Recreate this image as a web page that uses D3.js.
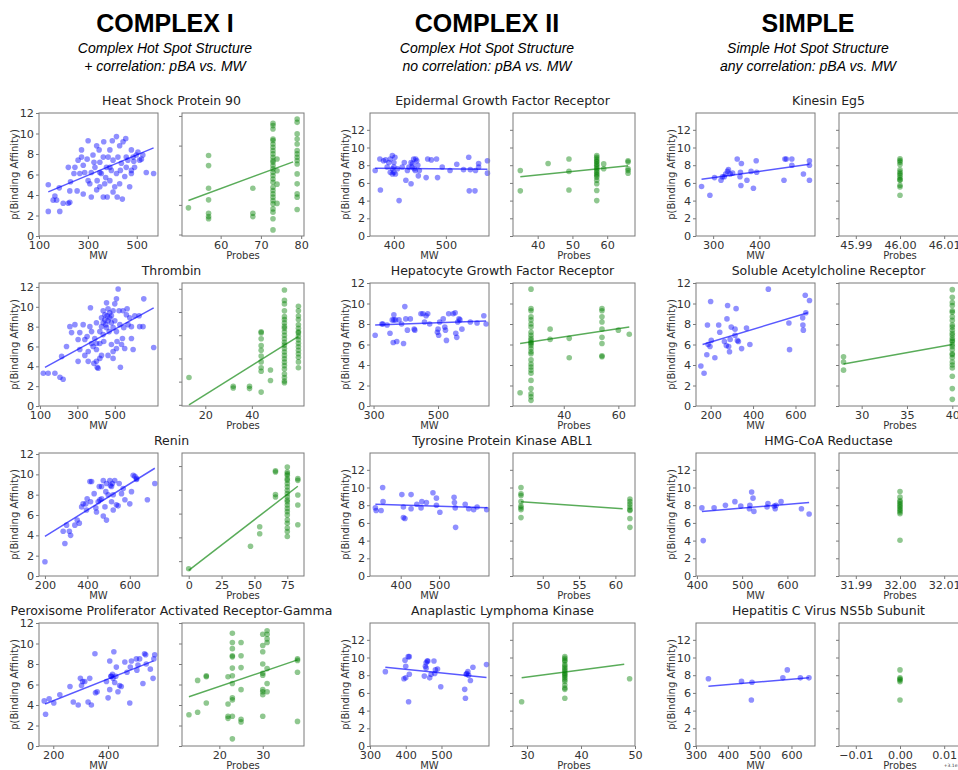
<!DOCTYPE html>
<html>
<head>
<meta charset="utf-8">
<script src="https://cdn.jsdelivr.net/npm/d3@7"></script>
<style>
  body { margin: 0; background: #fff; }
  svg text { font-family: "DejaVu Sans", sans-serif; }
</style>
</head>
<body>
<svg id="chart"></svg>
<script>
// ---- headers ----
const groupTitles = ["COMPLEX I", "COMPLEX II", "SIMPLE"];
const groupSub1 = ["Complex Hot Spot Structure", "Complex Hot Spot Structure", "Simple Hot Spot Structure"];
const groupSub2 = ["+ correlation: pBA vs. MW", "no correlation: pBA vs. MW", "any correlation: pBA vs. MW"];

// ---- panel titles (column by column) ----
const titles = [
  "Heat Shock Protein 90", "Thrombin", "Renin", "Peroxisome Proliferator Activated Receptor-Gamma",
  "Epidermal Growth Factor Receptor", "Hepatocyte Growth Factor Receptor", "Tyrosine Protein Kinase ABL1", "Anaplastic Lymphoma Kinase",
  "Kinesin Eg5", "Soluble Acetylcholine Receptor", "HMG-CoA Reductase", "Hepatitis C Virus NS5b Subunit"
];

// ---- axis ranges and ticks ----
const mwDomains = [[100,587],[95,731],[172,733],[148,582],[354,583],[289,658],[320,630],[300,633],[263,520],[131,692],[398,661],[300,674]];
const mwTicks = [[100,300,500],[100,300,500],[200,400,600],[200,400],[400,500],[300,500],[400,500],[300,400,500],[300,400],[200,400,600],[400,500,600],[300,400,500,600]];
const yTops = [12,12.4,12.1,12,13.9,12,13.9,13.9,13.9,12,13.9,13.9];
const probeDomains = [[50.4,80.7],[10,62.4],[-5.1,87.7],[11.4,39.5],[32.9,68],[21.4,66.1],[45.9,62.7],[27.4,50],[45.9862,46.0138],[27.5,40.96],[31.9862,32.0138],[-0.0138,0.0138]];
const probeTicks = [[60,70,80],[20,40],[0,25,50,75],[20,30],[40,50,60],[40,60],[50,55,60],[30,40,50],[45.99,46.00,46.01],[30,35,40],[31.99,32.00,32.01],[-0.01,0.00,0.01]];
const probeY = [[1.9,10.2],[1.9,12.5],[0.75,11.1],[0,12],[0,13.9],[0,12],[0,13.9],[0,13.9],[0,13.9],[0,12],[0,13.9],[0,13.9]];
const probeOffsets = ["", "", "", "", "", "", "", "", "", "", "", "+3.1e1"];

// ---- MW vs pBA points [MW, pBA] and fitted line ends ----
const hsp90MW = [[138,2.4],[138,5.0],[165,3.9],[172,3.5],[183,4.7],[185,2.4],[158,3.5],[199,3.2],[220,3.2],[226,3.3],[226,4.4],[220,6.7],[229,5.3],[243,6.1],[247,6.7],[260,7.4],[267,6.1],[274,7.7],[281,6.9],[287,6.2],[297,7.5],[301,9.3],[308,5.1],[314,3.8],[314,6.2],[321,7.9],[329,6.7],[336,8.8],[338,5.4],[346,8.4],[349,7.2],[349,4.8],[355,6.1],[363,7.7],[365,9.2],[369,5.1],[376,6.7],[379,3.8],[383,7.7],[390,8.4],[390,5.4],[396,6.4],[400,9.3],[403,7.4],[410,4.8],[417,9.7],[420,3.8],[423,7.7],[430,8.8],[433,6.4],[437,7.1],[444,9.2],[451,5.8],[455,9.5],[457,7.7],[464,7.4],[471,4.8],[478,6.4],[485,7.7],[491,6.7],[498,7.9],[505,8.2],[512,7.4],[519,7.5],[525,7.9],[539,6.2],[569,6.1],[281,4.1],[256,4.4],[301,5.4],[403,4.3],[441,3.6],[478,6.1],[478,8.4],[349,6.2],[325,7.2],[373,5.7],[417,6.1],[336,4.5],[274,8.4],[390,6.7],[430,5.1],[457,6.7],[488,7.3],[363,3.8]];
const hsp90MWFit = [[138,4.3],[569,8.6]];
const thrombinMW = [[118,3.3],[144,3.3],[180,3.3],[207,2.9],[224,2.7],[216,5.0],[242,6.0],[260,8.0],[269,7.4],[287,8.2],[304,4.5],[331,8.2],[304,6.7],[313,5.7],[340,6.7],[352,7.0],[358,5.5],[370,9.9],[367,8.0],[376,7.5],[384,6.0],[393,6.8],[402,5.7],[402,8.4],[402,4.5],[406,3.9],[411,3.8],[420,7.5],[420,6.3],[429,8.9],[429,8.0],[438,9.6],[438,8.4],[438,7.2],[441,6.5],[447,9.2],[447,8.7],[452,8.2],[456,7.9],[456,10.4],[459,9.1],[464,9.8],[464,8.6],[470,7.5],[473,9.4],[473,8.9],[482,9.1],[482,8.4],[482,6.2],[491,9.6],[491,7.9],[491,4.8],[500,8.6],[500,10.3],[509,10.8],[509,7.5],[512,6.5],[518,11.8],[523,9.6],[527,8.2],[530,3.9],[536,6.2],[541,6.8],[548,7.9],[553,5.8],[562,9.2],[571,8.2],[580,8.9],[589,8.0],[598,5.7],[607,9.1],[633,8.0],[651,8.0],[655,10.8],[630,9.1],[566,9.8],[589,6.8],[544,9.6],[509,5.8],[420,4.8],[464,5.1],[491,5.5],[358,4.5],[388,4.3],[376,6.3],[402,6.3],[340,5.1],[313,7.4],[429,5.1],[708,5.9]];
const thrombinMWFit = [[127,3.9],[708,9.9]];
const reninMW = [[200,1.4],[286,4.4],[294,3.2],[302,5.0],[315,4.4],[321,4.0],[341,5.0],[352,5.5],[362,5.2],[373,6.8],[380,7.1],[393,7.1],[396,6.5],[399,7.6],[412,9.3],[420,9.3],[415,7.3],[432,8.1],[440,6.7],[443,6.3],[451,7.3],[456,8.8],[467,7.6],[467,8.8],[475,9.4],[475,5.9],[483,6.8],[487,8.3],[490,9.1],[498,8.0],[506,9.4],[509,8.9],[514,7.3],[514,8.8],[518,9.1],[522,6.5],[522,8.0],[529,9.4],[537,7.0],[545,6.9],[550,9.1],[561,8.1],[569,8.6],[577,7.5],[600,7.1],[608,8.3],[616,9.9],[624,9.8],[632,9.5],[632,9.6],[683,7.5],[718,9.1],[490,5.5],[459,7.5]];
const reninMWFit = [[200,3.9],[718,10.6]];
const ppargMW = [[167,4.4],[172,3.1],[185,4.6],[202,4.2],[224,5.0],[261,5.8],[273,4.3],[291,4.0],[299,6.6],[307,6.3],[303,5.9],[315,6.3],[327,4.3],[333,6.6],[339,4.0],[352,9.0],[354,5.2],[360,5.3],[394,6.3],[400,4.7],[406,8.3],[406,5.5],[410,6.8],[412,6.8],[416,7.0],[418,6.6],[421,9.2],[424,6.2],[428,6.8],[430,7.7],[436,5.3],[442,5.9],[448,5.8],[461,8.2],[469,7.2],[479,4.2],[481,7.7],[485,8.3],[503,8.5],[505,7.4],[509,7.9],[515,8.5],[527,6.1],[533,9.0],[537,8.9],[539,8.0],[554,7.5],[564,6.6],[567,8.5],[570,8.9]];
const ppargMWFit = [[170,4.1],[566,8.3]];
const egfrMW = [[364,7.4],[373,8.7],[374,5.2],[380,8.5],[384,8.6],[387,7.8],[390,8.3],[393,8.7],[393,7.2],[397,9.1],[397,7.0],[397,7.6],[400,8.3],[400,7.8],[400,7.2],[402,8.9],[403,7.0],[407,7.6],[410,4.0],[416,7.8],[420,8.3],[423,6.3],[426,7.4],[429,7.8],[433,5.9],[433,8.3],[435,7.8],[436,8.2],[438,8.7],[439,7.6],[441,7.4],[442,8.7],[444,8.5],[446,8.0],[447,6.8],[449,7.4],[462,6.6],[465,8.7],[472,8.6],[482,8.7],[484,6.6],[493,7.8],[508,7.4],[521,8.1],[534,7.5],[544,8.9],[545,5.1],[547,7.5],[556,5.1],[557,7.4],[563,7.8],[563,8.2],[580,8.5],[580,7.1]];
const egfrMWFit = [[364,7.65],[580,7.55]];
const hgfrMW = [[305,6.9],[326,8.0],[329,8.0],[342,7.9],[351,7.1],[358,8.4],[363,8.9],[363,8.4],[368,8.4],[361,6.2],[372,6.3],[379,8.4],[387,8.0],[393,6.1],[397,9.7],[400,8.5],[405,7.4],[414,8.5],[426,7.5],[428,7.4],[447,9.0],[453,9.0],[458,8.2],[463,8.8],[468,9.0],[474,8.0],[498,7.2],[500,7.5],[502,6.9],[505,8.2],[516,8.5],[521,7.7],[523,7.4],[526,6.4],[533,9.0],[547,9.0],[553,9.1],[555,7.1],[558,6.7],[561,8.2],[565,8.5],[568,8.4],[574,7.5],[600,8.2],[621,8.1],[642,8.8],[649,8.0]];
const hgfrMWFit = [[305,7.9],[649,8.3]];
const abl1MW = [[334,7.7],[336,7.4],[349,7.4],[353,10.0],[354,8.4],[403,9.2],[407,7.8],[407,6.6],[411,6.5],[427,9.2],[427,7.6],[442,8.1],[453,7.7],[455,8.4],[467,8.3],[484,9.4],[493,8.8],[493,8.0],[502,7.2],[539,8.9],[540,8.3],[542,7.7],[543,5.5],[568,8.1],[577,7.6],[590,7.5],[599,7.8],[624,7.5]];
const abl1MWFit = [[334,8.1],[626,7.7]];
const alkMW = [[343,8.4],[395,7.6],[398,9.7],[400,7.7],[400,9.0],[407,10.1],[410,10.1],[410,8.1],[408,5.0],[452,7.9],[455,9.0],[457,9.4],[457,8.8],[460,9.6],[462,9.6],[467,7.7],[471,8.1],[479,9.6],[483,8.6],[489,8.7],[481,8.2],[498,6.7],[565,6.4],[567,5.4],[569,8.1],[571,8.2],[574,8.4],[576,8.0],[581,7.4],[588,8.9],[626,9.2]];
const alkMWFit = [[343,8.9],[626,7.75]];
const kinesinMW = [[275,5.6],[293,4.6],[303,6.6],[317,6.3],[320,6.7],[324,6.7],[327,7.0],[331,7.3],[333,7.5],[337,7.0],[342,7.1],[352,8.7],[358,6.7],[359,7.2],[361,8.2],[360,5.7],[373,6.3],[382,7.3],[387,5.4],[393,8.5],[394,7.2],[453,6.3],[455,8.7],[458,8.7],[470,8.7],[470,8.0],[495,7.0],[508,8.5],[508,8.0],[508,6.3]];
const kinesinMWFit = [[275,6.4],[508,8.1]];
const achrMW = [[154,3.9],[169,3.2],[182,5.0],[185,7.9],[188,6.0],[197,5.8],[200,10.2],[203,6.4],[220,4.7],[238,7.9],[243,7.2],[265,6.3],[274,5.9],[277,8.5],[280,9.8],[285,5.8],[289,5.3],[292,6.5],[297,7.7],[315,7.5],[315,6.9],[320,9.5],[326,6.4],[331,6.3],[346,5.6],[369,7.6],[385,6.0],[472,11.4],[569,8.1],[572,5.5],[634,8.6],[635,7.9],[637,7.4],[646,10.8],[649,9.1],[666,10.3]];
const achrMWFit = [[162,6.0],[658,9.1]];
const hmgMW = [[411,7.7],[414,4.0],[438,7.7],[463,8.0],[484,8.4],[497,7.9],[516,7.6],[517,8.0],[521,9.5],[524,8.8],[526,7.3],[555,7.8],[557,8.2],[571,7.9],[573,7.6],[575,8.0],[586,8.4],[631,7.6],[648,7.0]];
const hmgMWFit = [[411,7.3],[648,8.3]];
const hcvMW = [[339,7.6],[443,7.3],[476,7.2],[474,5.2],[573,7.7],[587,8.6],[628,7.7],[655,7.7]];
const hcvMWFit = [[339,6.75],[655,7.7]];

// ---- Probes vs pBA: [probes, [pBA values]] and fitted line ends ----
const hsp90Probes = [[52,[3.8]],[57,[7.33,6.65,5.12,4.34,3.44,3.21,3.06]],[68,[5.12,3.44,3.21]],[73,[9.5,9.35,9.12,8.45,8.34,8.11,7.89,7.66,7.44,7.21,6.99,6.87,6.65,6.43,6.2,5.98,5.75,5.53,5.19,4.97,4.74,4.52,4.29,4.07,3.73,3.51,3.06,2.31]],[74,[7.1,6.3,5.4,4.1]],[79,[9.8,9.57,8.79,8.45,8.11,7.66,7.44,7.21,6.99,6.76,6.09,5.42,4.74,4.52,3.69]]];
const hsp90ProbesFit = [[52,4.3],[78,6.9]];
const thrombinProbes = [[13,[4.35]],[32,[3.6,3.45]],[39,[3.6,3.4]],[44,[8.3,8.2,7.7,7.1,6.7,6.2,5.7,5.2,4.9,3.1]],[48,[5.0,4.1]],[54,[11.9,11.0,10.7,10.1,9.6,9.35,9.06,8.76,8.6,8.3,8.0,7.7,7.4,7.15,6.85,6.56,6.26,5.97,5.68,5.38,5.09,4.65,4.35,4.06,3.9]],[60,[10.5,10.1,9.65,9.35,8.9,8.6,8.3,8.2,7.9,7.6,7.3,7.0,6.7,6.4,6.1,5.7,5.2]]];
const thrombinProbesFit = [[13,2.0],[60,7.9]];
const reninProbes = [[0,[1.36]],[47,[3.25]],[54,[4.9,4.3]],[66,[9.6,9.5,7.6,7.4]],[75,[9.92,9.5,9.36,9.22,8.94,8.8,8.53,8.25,7.97,7.69,7.42,7.14,7.0,6.72,6.44,6.17,5.89,5.47,5.19,4.78,4.5,4.08]],[83,[8.94,8.8,7.56,6.72,5.06]]];
const reninProbesFit = [[0,1.22],[83,8.3]];
const ppargProbes = [[13,[3.05]],[15,[3.3,6.4]],[17,[6.85,6.75,4.2]],[22,[4.1,6.75,2.9,2.7]],[23,[11.0,10.1,9.5,8.8,8.7,7.6,6.85,6.1,4.7,4.5,0.7,2.9]],[25,[10.1,8.8,7.65,5.5,2.6,2.35]],[30,[10.9,9.8,9.2,8.0,7.1,6.9,5.5,5.3,5.0,2.9]],[31,[11.25,10.9,10.45,10.1,7.55,6.1,5.3]],[38,[8.5,8.35,7.2,2.4]]];
const ppargProbesFit = [[13,4.8],[38,8.4]];
const egfrProbes = [[35,[7.4,5.1]],[43,[8.2]],[49,[8.7,7.3,5.2]],[57,[9.1,8.9,8.7,8.5,8.35,8.15,8.0,7.8,7.6,7.4,7.2,7.0,6.85,6.65,6.3,5.9,5.15,4.0]],[59,[8.15,7.6]],[66,[8.5,8.35,7.6,7.4,7.1]]];
const egfrProbesFit = [[35,6.7],[66,7.95]];
const hgfrProbes = [[24,[1.3]],[28,[11.4,9.5,9.3,8.7,8.4,8.0,7.7,7.2,6.9,6.6,6.4,6.2,6.1,5.9,5.6,5.3,5.1,4.5,4.1,3.8,3.5,3.2,2.5,1.7,1.2,0.9,0.55]],[35,[7.5,6.5]],[42,[6.6,4.7]],[54,[9.5,9.3,8.7,8.2,7.5,6.7,6.1,4.9,4.8]],[60,[7.4]],[64,[7.0]]];
const hgfrProbesFit = [[24,6.1],[64,7.7]];
const abl1Probes = [[47,[10.0,9.3,9.1,8.4,7.9,7.7,7.5,6.6]],[62,[8.7,8.4,8.1,7.8,7.5,7.4,6.5,5.5]]];
const abl1ProbesFit = [[47,8.4],[61,7.6]];
const alkProbes = [[29,[5.0]],[37,[10.1,9.9,9.7,9.55,9.2,9.0,8.8,8.6,8.4,8.2,8.05,7.9,7.7,7.5,7.3,6.9,6.55,6.4,5.4]],[49,[7.6]]];
const alkProbesFit = [[29,7.7],[48,9.25]];
const kinesinProbes = [[46,[8.73,8.54,8.35,8.09,7.49,7.23,7.04,6.85,6.59,6.37,6.29,5.73,5.54,4.61]]];
const kinesinProbesFit = [];
const achrProbes = [[28,[4.8,4.3,3.5]],[40,[11.35,10.6,10.1,9.8,9.3,9.15,8.7,8.35,7.9,7.7,7.4,7.1,6.9,6.6,6.4,6.3,6.0,5.8,5.5,5.1,5.0,4.7,4.3,4.0,3.7,2.9,1.7,0.65]]];
const achrProbesFit = [[28,4.1],[40,6.0]];
const hmgProbes = [[32,[9.55,8.91,8.54,8.35,8.16,7.98,7.79,7.6,7.42,7.23,7.04,4.04]]];
const hmgProbesFit = [];
const hcvProbes = [[0,[8.6,7.7,7.57,7.45,7.27,5.2]]];
const hcvProbesFit = [];

const mwSets = [hsp90MW, thrombinMW, reninMW, ppargMW, egfrMW, hgfrMW, abl1MW, alkMW, kinesinMW, achrMW, hmgMW, hcvMW];
const mwFits = [hsp90MWFit, thrombinMWFit, reninMWFit, ppargMWFit, egfrMWFit, hgfrMWFit, abl1MWFit, alkMWFit, kinesinMWFit, achrMWFit, hmgMWFit, hcvMWFit];
const probeSets = [hsp90Probes, thrombinProbes, reninProbes, ppargProbes, egfrProbes, hgfrProbes, abl1Probes, alkProbes, kinesinProbes, achrProbes, hmgProbes, hcvProbes];
const probeFits = [hsp90ProbesFit, thrombinProbesFit, reninProbesFit, ppargProbesFit, egfrProbesFit, hgfrProbesFit, abl1ProbesFit, alkProbesFit, kinesinProbesFit, achrProbesFit, hmgProbesFit, hcvProbesFit];

// ---- layout ----
const width = 958, height = 770;
const colLeftX = [39, 370, 696];
const colRightX = [182, 513, 839];
const rowTopY = [113, 283, 453, 623];
const leftW = 119, rightW = 122, boxH = 123;
const headerX = [165, 487, 808];

const blue = "#0000ff", green = "#008000";
const spine = "#7a7a7a", tickText = "#333";

const svg = d3.select("#chart").attr("width", width).attr("height", height);

// headers
groupTitles.forEach((t, i) => {
  svg.append("text").attr("x", headerX[i]).attr("y", 32).attr("text-anchor", "middle")
    .style("font-family", "'Liberation Sans', Arial, sans-serif")
    .attr("font-size", 25).attr("font-weight", "bold").attr("fill", "#000").text(t);
  svg.append("text").attr("x", headerX[i]).attr("y", 53).attr("text-anchor", "middle")
    .style("font-family", "'Liberation Sans', Arial, sans-serif")
    .attr("font-size", 14).attr("font-style", "italic").attr("fill", "#000").text(groupSub1[i]);
  svg.append("text").attr("x", headerX[i]).attr("y", 71).attr("text-anchor", "middle")
    .style("font-family", "'Liberation Sans', Arial, sans-serif")
    .attr("font-size", 14).attr("font-style", "italic").attr("fill", "#000").text(groupSub2[i]);
});

function drawAxes(x0, y0, w, x, y, xTicks, xFmt, xLabel, showYLabels) {
  const g = svg.append("g").attr("transform", `translate(${x0},${y0})`);
  const gx = g.append("g").attr("transform", `translate(0,${boxH})`)
    .call(d3.axisBottom(x).tickValues(xTicks).tickFormat(xFmt).tickSize(3).tickPadding(2));
  const [lo, hi] = y.domain();
  const yt = d3.range(Math.ceil(lo / 2 - 1e-9) * 2, hi + 1e-9, 2);
  const gy = g.append("g")
    .call(d3.axisLeft(y).tickValues(yt).tickSize(3).tickPadding(2)
      .tickFormat(showYLabels ? d3.format("d") : () => ""));
  [gx, gy].forEach(a => {
    a.attr("font-size", 11.2).attr("font-family", "DejaVu Sans");
    a.select(".domain").remove();
    a.selectAll(".tick line").attr("stroke", spine);
    a.selectAll(".tick text").attr("fill", tickText);
  });
  g.append("text").attr("x", w / 2).attr("y", boxH + 23).attr("text-anchor", "middle")
    .attr("font-size", 10).attr("fill", tickText).text(xLabel);
  return g;
}

titles.forEach((title, i) => {
  const col = Math.floor(i / 4), row = i % 4;
  const y0 = rowTopY[row];
  const lx = colLeftX[col], rx = colRightX[col];

  svg.append("text").attr("x", (lx + rx + rightW) / 2).attr("y", y0 - 8.5)
    .attr("text-anchor", "middle").attr("font-size", 12.5).attr("fill", "#222").text(title);

  // left: MW
  const xL = d3.scaleLinear().domain(mwDomains[i]).range([0, leftW]);
  const yL = d3.scaleLinear().domain([0, yTops[i]]).range([boxH, 0]);
  const gL = drawAxes(lx, y0, leftW, xL, yL, mwTicks[i], d3.format("d"), "MW", true);
  gL.append("text")
    .attr("transform", `translate(${-21},${boxH / 2}) rotate(-90)`)
    .attr("text-anchor", "middle").attr("font-size", 10).attr("fill", tickText)
    .text("p(Binding Affinity)");
  gL.selectAll("circle").data(mwSets[i]).join("circle")
    .attr("cx", d => xL(d[0])).attr("cy", d => yL(d[1])).attr("r", 2.8)
    .attr("fill", blue).attr("fill-opacity", 0.44);
  gL.append("path").datum(mwFits[i])
    .attr("d", d3.line().x(d => xL(d[0])).y(d => yL(d[1])))
    .attr("fill", "none").attr("stroke", blue).attr("stroke-opacity", 0.65).attr("stroke-width", 1.5);
  gL.append("rect").attr("width", leftW).attr("height", boxH)
    .attr("fill", "none").attr("stroke", spine).attr("stroke-width", 1);

  // right: Probes
  const pTicks = probeTicks[i];
  const pFmt = pTicks.some(t => Math.abs(t - Math.round(t)) > 1e-9) ? d3.format(".2f") : d3.format("d");
  const xR = d3.scaleLinear().domain(probeDomains[i]).range([0, rightW]);
  const yR = d3.scaleLinear().domain(probeY[i]).range([boxH, 0]);
  const gR = drawAxes(rx, y0, rightW, xR, yR, pTicks, pFmt, "Probes", false);
  const pts = probeSets[i].flatMap(([p, ys]) => ys.map(v => [p, v]));
  gR.selectAll("circle").data(pts).join("circle")
    .attr("cx", d => xR(d[0])).attr("cy", d => yR(d[1])).attr("r", 2.8)
    .attr("fill", green).attr("fill-opacity", 0.44);
  if (probeFits[i].length) {
    gR.append("path").datum(probeFits[i])
      .attr("d", d3.line().x(d => xR(d[0])).y(d => yR(d[1])))
      .attr("fill", "none").attr("stroke", green).attr("stroke-opacity", 0.65).attr("stroke-width", 1.5);
  }
  if (probeOffsets[i]) {
    gR.append("text").attr("x", rightW - 9).attr("y", boxH + 21)
      .attr("text-anchor", "middle").attr("font-size", 4.5).attr("fill", tickText)
      .text(probeOffsets[i]);
  }
  gR.append("rect").attr("width", rightW).attr("height", boxH)
    .attr("fill", "none").attr("stroke", spine).attr("stroke-width", 1);
});
</script>
</body>
</html>
